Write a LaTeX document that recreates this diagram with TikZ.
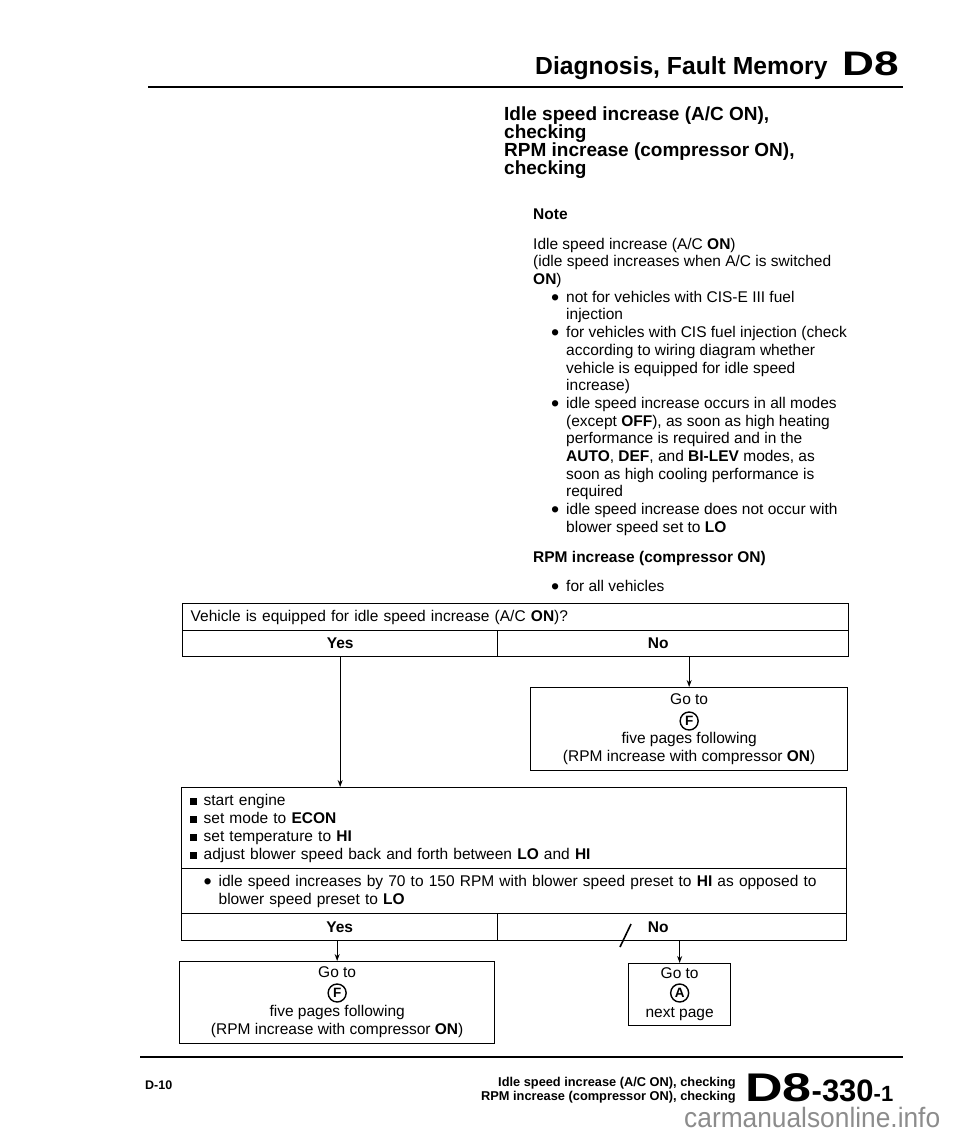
\documentclass[tikz,border=0pt]{standalone}
\usepackage{fontspec}
\usepackage{graphicx}
\setmainfont{Liberation Sans}
\usetikzlibrary{arrows.meta}
\newcommand{\dotmark}{\makebox[15pt][l]{\raisebox{-3pt}{\scalebox{1.5}{\textbullet}}}}
\newcommand{\sqmark}{\makebox[14pt][l]{\rule{7.5pt}{7.5pt}}}

\begin{document}
\begin{tikzpicture}[x=1pt, y=-1pt,
    body/.style={inner sep=0pt, align=left, font=\fontsize{15.5}{17.7}\selectfont},
    cell/.style={draw, line width=1.3pt, inner sep=0pt, anchor=north west, font=\fontsize{15.5}{18}\selectfont},
    ring/.style={draw, circle, line width=1.4pt, inner sep=0pt, minimum size=18pt, font=\bfseries\fontsize{13.5}{13.5}\selectfont},
    flow/.style={-{Stealth[length=7pt,width=5pt]}, line width=1.1pt}]
        \useasboundingbox (0,0) rectangle (960,1134);

        % Header
        \node[inner sep=0pt, anchor=base west, font=\bfseries\fontsize{24.7}{26}\selectfont] (header) at (535,75) {Diagnosis, Fault Memory};
        \node[inner sep=0pt, anchor=base west, font=\bfseries\fontsize{34}{34}\selectfont] (group) at (842,76) {\scalebox{1.3}[1]{D8}};
        \draw[line width=2.5pt] (148,87) -- (903,87);

        % Title and note
        \node[body, anchor=north west, font=\bfseries\fontsize{19}{18}\selectfont] (title) at (504,107) {Idle speed increase (A/C ON),\\checking\\RPM increase (compressor ON),\\checking};
        \node[body, anchor=base west, font=\bfseries\fontsize{15.5}{17.7}\selectfont] (note) at (533,219) {Note};
        \node[body, anchor=north west] (idletext) at (533,237.7) {Idle speed increase (A/C \textbf{ON})\\
            (idle speed increases when A/C is switched\\
            \textbf{ON})\\
            \hspace*{18pt}\dotmark not for vehicles with CIS-E III fuel\\
            \hspace*{33pt}injection\\
            \hspace*{18pt}\dotmark for vehicles with CIS fuel injection (check\\
            \hspace*{33pt}according to wiring diagram whether\\
            \hspace*{33pt}vehicle is equipped for idle speed\\
            \hspace*{33pt}increase)\\
            \hspace*{18pt}\dotmark idle speed increase occurs in all modes\\
            \hspace*{33pt}(except \textbf{OFF}), as soon as high heating\\
            \hspace*{33pt}performance is required and in the\\
            \hspace*{33pt}\textbf{AUTO}, \textbf{DEF}, and \textbf{BI-LEV} modes, as\\
            \hspace*{33pt}soon as high cooling performance is\\
            \hspace*{33pt}required\\
            \hspace*{18pt}\dotmark idle speed increase does not occur with\\
            \hspace*{33pt}blower speed set to \textbf{LO}};
        \node[body, anchor=base west, font=\bfseries\fontsize{15.5}{17.7}\selectfont] (rpmhead) at (533,562) {RPM increase (compressor ON)};
        \node[body, anchor=base west] (rpmtext) at (551,591) {\dotmark for all vehicles};

        % Flowchart boxes
        \node[cell, minimum width=666, minimum height=27, text width=650, align=left] (question) at (182,603) {Vehicle is equipped for idle speed increase (A/C \textbf{ON})?};
        \node[cell, minimum width=315, minimum height=26] (yes) at (182,630) {\textbf{Yes}};
        \node[cell, minimum width=351, minimum height=26] (no) at (497,630) {\hspace*{-30pt}\textbf{No}};
        \node[cell, minimum width=317, minimum height=83, align=center] (gotoF1) at (530,687) {Go to\\[21pt]five pages following\\(RPM increase with compressor \textbf{ON})};
        \node[ring] (ringF1) at ([yshift=-34pt]gotoF1.north) {F};

        \node[cell, minimum width=665, minimum height=81, text width=649, align=left] (action) at (181,787) {\sqmark start engine\\
            \sqmark set mode to \textbf{ECON}\\
            \sqmark set temperature to \textbf{HI}\\
            \sqmark adjust blower speed back and forth between \textbf{LO} and \textbf{HI}};
        \node[cell, minimum width=665, minimum height=45, text width=649, align=left] (result) at (181,868) {\hspace*{14pt}\dotmark idle speed increases by 70 to 150 RPM with blower speed preset to \textbf{HI} as opposed to\\
            \hspace*{29pt}blower speed preset to \textbf{LO}};
        \node[cell, minimum width=316, minimum height=27] (yes2) at (181,913) {\textbf{Yes}};
        \node[cell, minimum width=349, minimum height=27] (no2) at (497,913) {\hspace*{-28pt}\textbf{No}};
        \node[cell, minimum width=315, minimum height=82, align=center] (gotoF2) at (179,961) {Go to\\[21pt]five pages following\\(RPM increase with compressor \textbf{ON})};
        \node[ring] (ringF2) at ([yshift=-32pt]gotoF2.north) {F};
        \node[cell, minimum width=102, minimum height=62, align=center] (gotoA) at (628,963) {Go to\\[21pt]next page};
        \node[ring] (ringA) at ([yshift=-30pt]gotoA.north) {A};

        % Arrows
        \draw[flow] (yes.south) -- (yes.south |- action.north);
        \draw[flow] (no.south -| gotoF1.north) -- (gotoF1.north);
        \draw[flow] (yes2.south -| gotoF2.north) -- (gotoF2.north);
        \draw[flow] (no2.south -| gotoA.north) -- (gotoA.north);
        \draw[line width=1.6pt] (620,947) -- (631,924);

        % Footer
        \draw[line width=2.5pt] (140,1057) -- (903,1057);
        \node[inner sep=0pt, anchor=base west, font=\bfseries\fontsize{12.5}{14}\selectfont] (pageno) at (145,1089) {D-10};
        \node[inner sep=0pt, anchor=north east, align=right, font=\bfseries\fontsize{12.8}{14}\selectfont] (footer) at (736,1077.5) {Idle speed increase (A/C ON), checking\\RPM increase (compressor ON), checking};
        \node[inner sep=0pt, anchor=base west, font=\bfseries] (sheet) at (745,1101) {{\fontsize{40}{40}\selectfont\scalebox{1.3}[1]{D8}}{\fontsize{31}{31}\selectfont-330}{\fontsize{22}{22}\selectfont-1}};
        \node[inner sep=0pt, anchor=base west, text=black!45, font=\fontsize{28}{28}\selectfont] (mark) at (684,1127) {\scalebox{0.94}[1]{carmanualsonline.info}};

    \end{tikzpicture}
\end{document}
